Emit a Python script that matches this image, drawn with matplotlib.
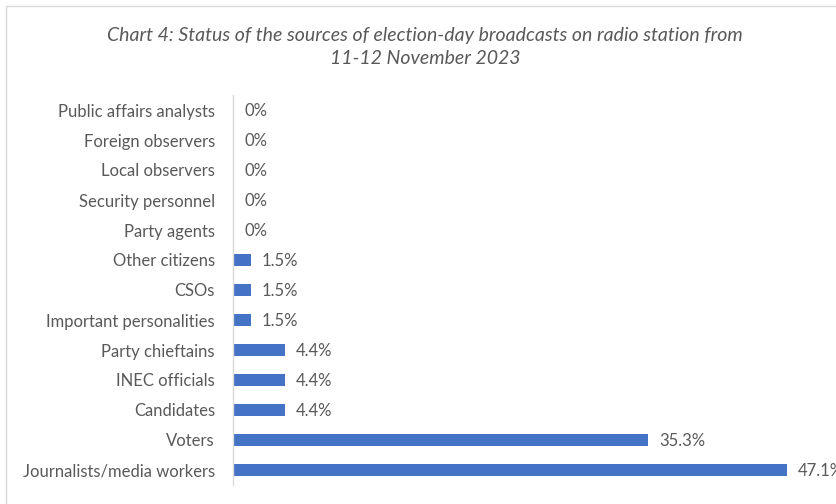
import matplotlib
matplotlib.use("Agg")
import matplotlib.pyplot as plt
from matplotlib.patches import Rectangle

# Sources of election-day broadcasts, bottom row first
categories = [
    "Journalists/media workers",
    "Voters",
    "Candidates",
    "INEC officials",
    "Party chieftains",
    "Important personalities",
    "CSOs",
    "Other citizens",
    "Party agents",
    "Security personnel",
    "Local observers",
    "Foreign observers",
    "Public affairs analysts",
]
shares = [47.1, 35.3, 4.4, 4.4, 4.4, 1.5, 1.5, 1.5, 0, 0, 0, 0, 0]
value_labels = ["47.1%", "35.3%", "4.4%", "4.4%", "4.4%", "1.5%", "1.5%", "1.5%",
                "0%", "0%", "0%", "0%", "0%"]

title = ("Chart 4: Status of the sources of election-day broadcasts on radio station from\n"
         "11-12 November 2023")

bar_color = "#4472C4"
text_color = "#595959"
line_color = "#D9D9D9"

plt.rcParams["font.family"] = ["Lato", "DejaVu Sans"]

W, H = 837, 504
fig = plt.figure(figsize=(W / 100, H / 100), dpi=100)

# chart frame (top and left edges visible)
fig.patches.append(Rectangle((6 / W, -0.5), 2.0, 1.0 + 0.5 - 6 / H,
                             transform=fig.transFigure, fill=False,
                             edgecolor=line_color, linewidth=1.0))

ax = fig.add_axes([233 / W, 1 - 485 / H, 588 / W, 390 / H])
y = list(range(len(categories)))
ax.barh(y, shares, height=0.37, color=bar_color)
ax.set_xlim(0, 50)
ax.set_ylim(-0.5, len(categories) - 0.5)
ax.set_yticks(y)
ax.set_yticklabels(categories, fontsize=12, color=text_color)
ax.tick_params(axis="y", length=0, pad=13)
ax.set_xticks([])

for s in ["top", "right", "bottom"]:
    ax.spines[s].set_visible(False)
ax.spines["left"].set_color(line_color)
ax.spines["left"].set_linewidth(1.0)

for yi, v, lab in zip(y, shares, value_labels):
    ax.annotate(lab, (v, yi), xytext=(8, -1), textcoords="offset points",
                va="center", ha="left", fontsize=12, color=text_color)

fig.text(425 / W, 1 - 47 / H, title, ha="center", va="center",
         fontsize=14, style="italic", color=text_color, linespacing=1.45)

fig.savefig("out.png", dpi=100, facecolor="white")
